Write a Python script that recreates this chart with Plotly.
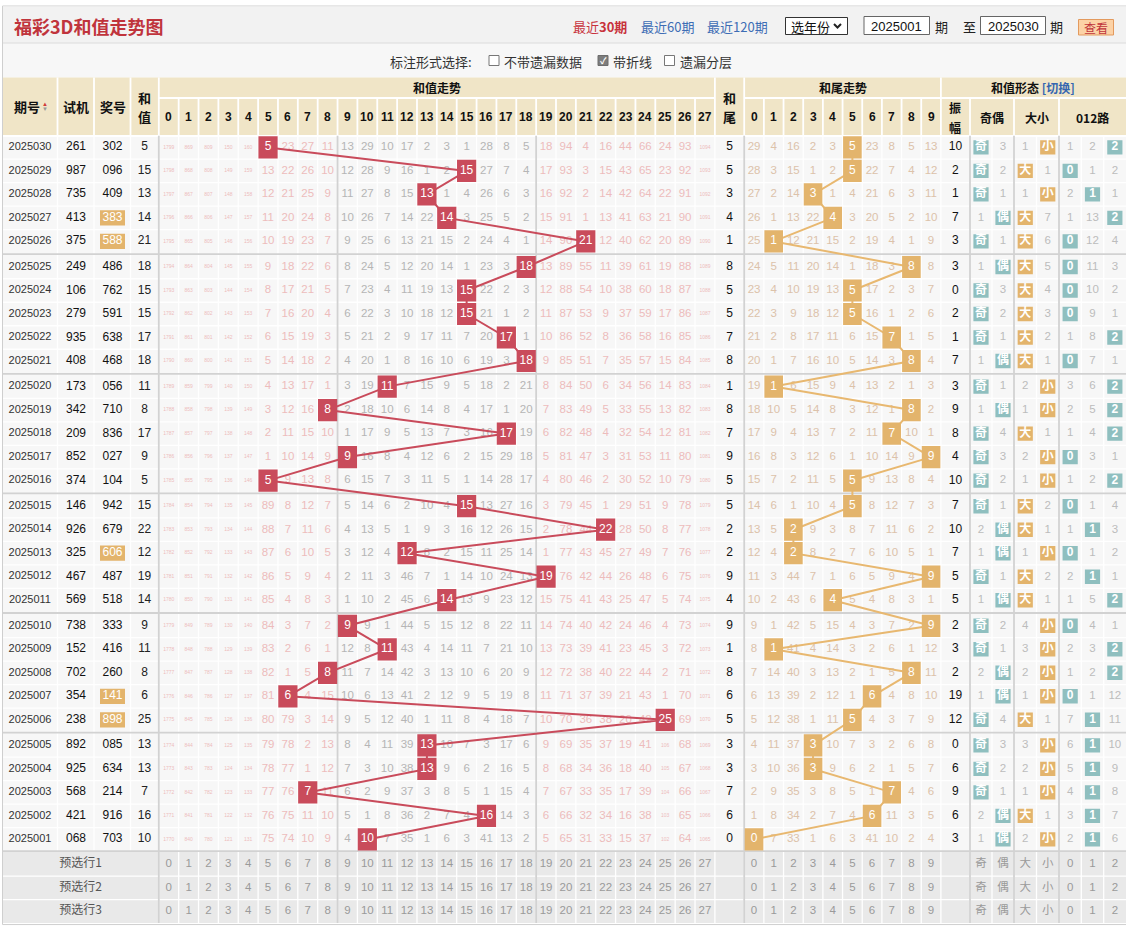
import plotly.graph_objects as go

# ---------------- data (top row = latest period) ----------------
periods = ["2025030", "2025029", "2025028", "2025027", "2025026",
           "2025025", "2025024", "2025023", "2025022", "2025021",
           "2025020", "2025019", "2025018", "2025017", "2025016",
           "2025015", "2025014", "2025013", "2025012", "2025011",
           "2025010", "2025009", "2025008", "2025007", "2025006",
           "2025005", "2025004", "2025003", "2025002", "2025001"]
trial_numbers = ["261", "987", "735", "413", "375",
                 "249", "106", "279", "935", "408",
                 "173", "342", "209", "852", "374",
                 "146", "926", "325", "467", "569",
                 "738", "152", "702", "354", "238",
                 "892", "925", "568", "421", "068"]
prize_numbers = ["302", "096", "409", "383", "588",
                 "486", "762", "591", "638", "468",
                 "056", "710", "836", "027", "104",
                 "942", "679", "606", "487", "518",
                 "333", "416", "260", "141", "898",
                 "085", "634", "214", "916", "703"]
sum_values = [5, 15, 13, 14, 21, 18, 15, 15, 17, 18,
              11, 8, 17, 9, 5, 15, 22, 12, 19, 14,
              9, 11, 8, 6, 25, 13, 13, 7, 16, 10]
amplitudes = [10, 2, 1, 7, 3, 3, 0, 2, 1, 7,
              3, 9, 8, 4, 10, 7, 10, 7, 5, 5,
              2, 3, 2, 19, 12, 0, 6, 9, 6, 3]

# omission counts shown in the oldest row (2025001)
base_sum_miss = [1770, 840, 780, 121, 131, 75, 74, 10, 9, 4, 0, 7, 35, 1,
                 6, 3, 41, 13, 2, 5, 65, 31, 33, 15, 37, 102, 64, 1065]
base_tail_miss = [0, 7, 33, 1, 6, 3, 41, 10, 2, 4]
base_oe_miss = [1, 0]
base_bs_miss = [2, 0]
base_r3_miss = [2, 0, 6]

sum_labels = [str(i) for i in range(28)]
tail_labels = [str(i) for i in range(10)]
oe_labels = ["奇", "偶"]
bs_labels = ["大", "小"]
r3_labels = ["0", "1", "2"]
footer_labels = ["预选行1", "预选行2", "预选行3"]

N = len(periods)

# ---------------- geometry ----------------
W, H = 1126, 930
ROW_Y0, ROW_H, GROUP_GAP = 147.4, 23.5, 2.1


def row_y(r):
    return ROW_Y0 + ROW_H * r + GROUP_GAP * (r // 5)


FOOT_Y = [864.3, 887.8, 911.3]
TBL_L, TBL_R = 3.0, 1126.0
HEAD_T, HEAD_M, HEAD_B = 77.5, 98.0, 136.0
DATA_T = row_y(0) - ROW_H / 2
DATA_B = row_y(N - 1) + ROW_H / 2
FOOT_B = FOOT_Y[-1] + ROW_H / 2

LEFT_B = [3.0, 57.5, 94.0, 130.5, 158.8]
LEFT_X = [30.0, 76.0, 112.5, 144.5]
SUM_L, SUM_DX = 158.8, 19.86
SUM_R = SUM_L + SUM_DX * 28


def sum_x(c):
    return SUM_L + SUM_DX * (c + 0.5)


TAILV_X = 729.5
TAIL_L, TAIL_DX = 744.2, 19.67
TAIL_R = TAIL_L + TAIL_DX * 10


def tail_x(j):
    return TAIL_L + TAIL_DX * (j + 0.5)


AMP_X = (TAIL_R + 970.0) / 2
OE_B = [970.0, 992.0, 1014.0]
BS_B = [1014.0, 1036.5, 1059.0]
R3_B = [1059.0, 1081.3, 1103.7, 1126.0]


def centers(b):
    return [(b[i] + b[i + 1]) / 2 for i in range(len(b) - 1)]


OE_X, BS_X, R3_X = centers(OE_B), centers(BS_B), centers(R3_B)

FONT = "Liberation Sans, Noto Sans CJK SC, sans-serif"
CJK = "Noto Sans CJK SC, sans-serif"

# ---------------- derived per-row states ----------------
tail_values = [s % 10 for s in sum_values]
oe_hit = [1 if s % 2 == 0 else 0 for s in sum_values]
bs_hit = [0 if s >= 14 else 1 for s in sum_values]
r3_hit = [s % 3 for s in sum_values]


def omissions(hits, base):
    rows = [None] * N
    rows[N - 1] = list(base)
    for r in range(N - 2, -1, -1):
        rows[r] = [0 if hits[r] == k else rows[r + 1][k] + 1 for k in range(len(base))]
    return rows


sum_miss = omissions(sum_values, base_sum_miss)
tail_miss = omissions(tail_values, base_tail_miss)
oe_miss = omissions(oe_hit, base_oe_miss)
bs_miss = omissions(bs_hit, base_bs_miss)
r3_miss = omissions(r3_hit, base_r3_miss)

# ---------------- helpers ----------------
shapes = []
annotations = []
traces = []


def rect(x0, y0, x1, y1, fill, line=None, lw=0, layer="below"):
    shapes.append(dict(type="rect", xref="x", yref="y", x0=x0, y0=y0, x1=x1, y1=y1,
                       fillcolor=fill, line=dict(color=line or fill, width=lw), layer=layer))


def seg_trace(segs, color, width):
    xs, ys = [], []
    for (x0, y0, x1, y1) in segs:
        xs += [x0, x1, None]
        ys += [y0, y1, None]
    return go.Scatter(x=xs, y=ys, mode="lines", line=dict(color=color, width=width),
                      hoverinfo="skip", showlegend=False)


def text_trace(xs, ys, texts, color, size, family=FONT, weight="normal"):
    return go.Scatter(x=xs, y=ys, text=texts, mode="text", textposition="middle center",
                      textfont=dict(family=family, size=size, color=color, weight=weight),
                      hoverinfo="skip", showlegend=False)


def rect_trace(rects, color):
    xs, ys = [], []
    for (cx, cy, hw, hh) in rects:
        xs += [cx - hw, cx + hw, cx + hw, cx - hw, cx - hw, None]
        ys += [cy - hh, cy - hh, cy + hh, cy + hh, cy - hh, None]
    return go.Scatter(x=xs, y=ys, mode="lines", fill="toself", fillcolor=color,
                      line=dict(width=0, color=color), hoverinfo="skip", showlegend=False)


def ann(x, y, text, size=12, color="#111", family=CJK, xanchor="center", bold=False):
    annotations.append(dict(x=x, y=y, xref="x", yref="y", text=("<b>%s</b>" % text) if bold else text,
                            showarrow=False, xanchor=xanchor, yanchor="middle",
                            font=dict(family=family, size=size, color=color)))


# ---------------- page backgrounds ----------------
rect(2.5, 6, TBL_R + 2, FOOT_B + 1.5, "#ffffff", "#cfcfcf", 1)
rect(3, 6.5, TBL_R, 43, "#f2f2f2")
rect(3, 43, TBL_R, HEAD_T, "#f7f7f7")
rect(3, HEAD_T, TBL_R, HEAD_B, "#f0e5c7")
rect(3, HEAD_B, TBL_R, DATA_B, "#f7f7f7")
rect(3, DATA_B, TBL_R, FOOT_B, "#e9e9e9")
shapes.append(dict(type="line", xref="x", yref="y", x0=3, x1=TBL_R, y0=43, y1=43,
                   line=dict(color="#dcdcdc", width=1), layer="below"))

# ---------------- grid lines ----------------
sum_bounds = [SUM_L + SUM_DX * i for i in range(29)]
tail_bounds = [TAIL_L + TAIL_DX * j for j in range(11)]
all_bounds = LEFT_B[1:] + sum_bounds[1:] + tail_bounds + [970.0] + OE_B[1:] + BS_B[1:] + R3_B[1:-1]

white = []
for b in all_bounds:
    white.append((b, DATA_T, b, DATA_B))
for r in range(N - 1):
    if (r + 1) % 5:
        y = (row_y(r) + row_y(r + 1)) / 2
        white.append((TBL_L, y, TBL_R, y))
foot_bounds = [LEFT_B[-1]] + sum_bounds[1:] + tail_bounds + [970.0] + OE_B[1:] + BS_B[1:] + R3_B[1:-1]
for b in foot_bounds:
    white.append((b, DATA_B, b, FOOT_B))
for i in range(len(FOOT_Y) - 1):
    y = (FOOT_Y[i] + FOOT_Y[i + 1]) / 2
    white.append((TBL_L, y, TBL_R, y))
traces.append(seg_trace(white, "#ffffff", 1.3))

head_white = []
for b in LEFT_B[1:] + [SUM_R, TAIL_L, TAIL_R]:
    head_white.append((b, HEAD_T, b, HEAD_B))
for b in sum_bounds[1:-1] + tail_bounds[1:-1] + [970.0, 1014.0, 1059.0]:
    head_white.append((b, HEAD_M, b, HEAD_B))
head_white.append((SUM_L, HEAD_M, SUM_R, HEAD_M))
head_white.append((TAIL_L, HEAD_M, TBL_R, HEAD_M))
head_white.append((TBL_L, HEAD_B, TBL_R, HEAD_B))
traces.append(seg_trace(head_white, "#ffffff", 1.8))

gray = []
for b in [SUM_L, sum_bounds[9], sum_bounds[19], TAIL_L, 970.0, 1014.0, 1059.0]:
    gray.append((b, DATA_T, b, FOOT_B))
for r in (4, 9, 14, 19, 24):
    y = (row_y(r) + row_y(r + 1)) / 2
    gray.append((TBL_L, y, TBL_R, y))
gray.append((TBL_L, DATA_B, TBL_R, DATA_B))
traces.append(seg_trace(gray, "#d2d2d2", 1.8))

# ---------------- left columns ----------------
ys = [row_y(r) for r in range(N)]
group3 = [len(set(p)) == 2 for p in prize_numbers]
traces.append(rect_trace([(LEFT_X[2], ys[r], 12.5, 7.6) for r in range(N) if group3[r]], "#e3b46c"))
traces.append(text_trace([LEFT_X[0]] * N, ys, periods, "#333333", 11))
traces.append(text_trace([LEFT_X[1]] * N, ys, trial_numbers, "#111111", 12))
traces.append(text_trace([LEFT_X[2]] * N, ys, prize_numbers,
                         ["#ffffff" if g else "#111111" for g in group3], 12))
traces.append(text_trace([LEFT_X[3]] * N, ys, [str(s) for s in sum_values], "#222222", 12))

# ---------------- omission numbers ----------------
ox, oy, ot, oc, osz = [], [], [], [], []
for r in range(N):
    for c in range(28):
        m = sum_miss[r][c]
        if m == 0:
            continue
        ox.append(sum_x(c)); oy.append(ys[r]); ot.append(str(m))
        oc.append("#b5b5b5" if 9 <= c <= 18 else "#edbcbc")
        osz.append(5 if m >= 100 else 11.5)
    for j in range(10):
        m = tail_miss[r][j]
        if m == 0:
            continue
        ox.append(tail_x(j)); oy.append(ys[r]); ot.append(str(m))
        oc.append("#dcc2aa"); osz.append(11.5)
    for arr, xs_ in ((oe_miss, OE_X), (bs_miss, BS_X), (r3_miss, R3_X)):
        for k, m in enumerate(arr[r]):
            if m == 0:
                continue
            ox.append(xs_[k]); oy.append(ys[r]); ot.append(str(m))
            oc.append("#bcbcbc"); osz.append(11.5)
traces.append(go.Scatter(x=ox, y=oy, text=ot, mode="text", textposition="middle center",
                         textfont=dict(family=FONT, size=osz, color=oc),
                         hoverinfo="skip", showlegend=False))

traces.append(text_trace([TAILV_X] * N, ys, [str(t) for t in tail_values], "#111111", 12))
traces.append(text_trace([AMP_X] * N, ys, [str(a) for a in amplitudes], "#111111", 12))

# ---------------- trend lines ----------------
traces.append(go.Scatter(x=[sum_x(s) for s in sum_values], y=ys, mode="lines",
                         line=dict(color="#c94b5b", width=2), hoverinfo="skip", showlegend=False))
traces.append(go.Scatter(x=[tail_x(t) for t in tail_values], y=ys, mode="lines",
                         line=dict(color="#e8b870", width=2), hoverinfo="skip", showlegend=False))

# ---------------- hit boxes ----------------
traces.append(rect_trace([(sum_x(s), ys[r], 9.6, 11.1) for r, s in enumerate(sum_values)], "#c94b5b"))
traces.append(rect_trace([(tail_x(t), ys[r], 9.3, 11.1) for r, t in enumerate(tail_values)], "#e3b46c"))
teal_tags = [(OE_X[oe_hit[r]], ys[r], 7.6, 7.2) for r in range(N)] + \
            [(R3_X[r3_hit[r]], ys[r], 7.6, 7.2) for r in range(N)]
traces.append(rect_trace(teal_tags, "#8fbfbf"))
traces.append(rect_trace([(BS_X[bs_hit[r]], ys[r], 7.6, 7.2) for r in range(N)], "#e3b46c"))

traces.append(text_trace([sum_x(s) for s in sum_values], ys, [str(s) for s in sum_values], "#ffffff", 12))
traces.append(text_trace([tail_x(t) for t in tail_values], ys, [str(t) for t in tail_values], "#ffffff", 12))
traces.append(text_trace([OE_X[oe_hit[r]] for r in range(N)], ys, [oe_labels[oe_hit[r]] for r in range(N)],
                         "#ffffff", 12, CJK, "bold"))
traces.append(text_trace([BS_X[bs_hit[r]] for r in range(N)], ys, [bs_labels[bs_hit[r]] for r in range(N)],
                         "#ffffff", 12, CJK, "bold"))
traces.append(text_trace([R3_X[r3_hit[r]] for r in range(N)], ys, [r3_labels[r3_hit[r]] for r in range(N)],
                         "#ffffff", 12, FONT, "bold"))

# ---------------- footer ----------------
fx, fy, ft = [], [], []
for fyv in FOOT_Y:
    for c in range(28):
        fx.append(sum_x(c)); fy.append(fyv); ft.append(sum_labels[c])
    for j in range(10):
        fx.append(tail_x(j)); fy.append(fyv); ft.append(tail_labels[j])
    for xs_, labs in ((OE_X, oe_labels), (BS_X, bs_labels), (R3_X, r3_labels)):
        for k, lab in enumerate(labs):
            fx.append(xs_[k]); fy.append(fyv); ft.append(lab)
traces.append(text_trace(fx, fy, ft, "#9a9a9a", 11.5))
traces.append(text_trace([80.5] * 3, FOOT_Y, footer_labels, "#555555", 12, CJK))

# ---------------- header ----------------
hy1 = (HEAD_T + HEAD_M) / 2
hy2 = (HEAD_M + HEAD_B) / 2
hyf = (HEAD_T + HEAD_B) / 2
ann(27, hyf, "期号", 13, bold=True)
ann(44.5, hyf - 2.5, "▲", 6, "#d03a3a", FONT)
ann(44.5, hyf + 2.5, "▼", 6, "#999999", FONT)
ann(LEFT_X[1], hyf, "试机", 13, bold=True)
ann(LEFT_X[2], hyf, "奖号", 13, bold=True)
ann(LEFT_X[3], hyf - 9.5, "和", 13, bold=True)
ann(LEFT_X[3], hyf + 10, "值", 13, bold=True)
ann((SUM_L + SUM_R) / 2, hy1, "和值走势", 12, bold=True)
for c in range(28):
    ann(sum_x(c), hy2, sum_labels[c], 12, family=FONT, bold=True)
ann(TAILV_X, hyf - 9.5, "和", 13, bold=True)
ann(TAILV_X, hyf + 10, "尾", 13, bold=True)
ann((TAIL_L + TAIL_R) / 2, hy1, "和尾走势", 12, bold=True)
for j in range(10):
    ann(tail_x(j), hy2, tail_labels[j], 12, family=FONT, bold=True)
ann((TAIL_R + TBL_R) / 2, hy1,
    "<b>和值形态 </b><b><span style='color:#3566b0'>[切换]</span></b>", 12)
ann(AMP_X, hy2 - 10, "振", 12, bold=True)
ann(AMP_X, hy2 + 10, "幅", 12, bold=True)
ann(992, hy2, "奇偶", 12, bold=True)
ann(1036.5, hy2, "大小", 12, bold=True)
ann(1092.5, hy2, "012路", 12, bold=True)

# ---------------- title bar & options ----------------
ann(12, 26, "福彩3D和值走势图", 18, "#c0343c", xanchor="left", bold=True)
ann(599.5, 26, "最近<b>30期</b>", 13, "#c8323c")
ann(667, 26, "最近60期", 13, "#3d6db5")
ann(737, 26, "最近120期", 13, "#3d6db5")
rect(785.5, 17.5, 847.5, 34.5, "#ffffff", "#333333", 1)
ann(789, 26, "选年份", 13, "#111111", xanchor="left")
traces.append(go.Scatter(x=[834, 837.5, 841], y=[24, 27.5, 24], mode="lines",
                         line=dict(color="#222222", width=2), hoverinfo="skip", showlegend=False))
rect(864, 16.5, 929.5, 34.5, "#ffffff", "#666666", 1)
ann(896.7, 26, "2025001", 13, "#111111", FONT)
ann(941, 26, "期", 13, "#222222")
ann(969, 26, "至", 13, "#222222")
rect(980.5, 16.5, 1045.5, 34.5, "#ffffff", "#666666", 1)
ann(1013, 26, "2025030", 13, "#111111", FONT)
ann(1056, 26, "期", 13, "#222222")
rect(1078.5, 19.5, 1113.5, 35, "#fcd2a6", "#e39a5e", 1)
ann(1096, 27.3, "查看", 12, "#c0343c")

ann(430.5, 61, "标注形式选择:", 13, "#333333")
rect(489, 55.5, 499, 65.5, "#ffffff", "#777777", 1)
ann(502, 61, "不带遗漏数据", 13, "#333333", xanchor="left")
rect(598, 55.5, 608, 65.5, "#7d7d7d", "#6d6d6d", 1)
ann(603, 60.5, "<b>✓</b>", 9, "#ffffff", FONT)
ann(611, 61, "带折线", 13, "#333333", xanchor="left")
rect(664.5, 55.5, 674.5, 65.5, "#ffffff", "#777777", 1)
ann(678, 61, "遗漏分层", 13, "#333333", xanchor="left")

# ---------------- figure ----------------
fig = go.Figure(data=traces)
fig.update_layout(
    width=W, height=H, margin=dict(l=0, r=0, t=0, b=0),
    paper_bgcolor="#ffffff", plot_bgcolor="#ffffff",
    xaxis=dict(range=[0, W], visible=False, fixedrange=True),
    yaxis=dict(range=[H, 0], visible=False, fixedrange=True),
    shapes=shapes, annotations=annotations, showlegend=False, hovermode=False,
)
fig.write_html("out.html", config={"displayModeBar": False})
